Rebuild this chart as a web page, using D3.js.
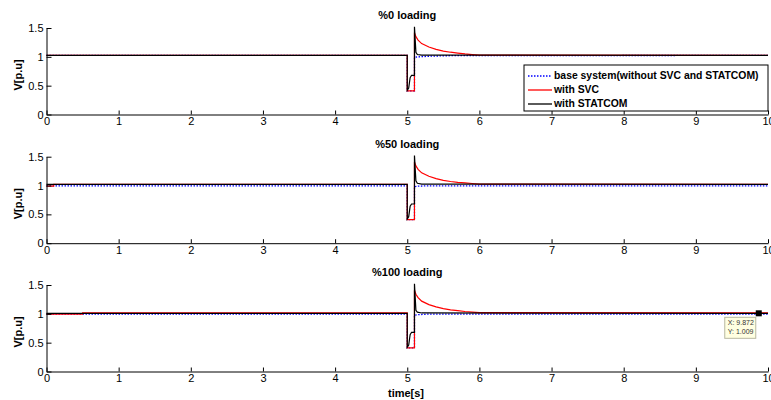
<!DOCTYPE html>
<html>
<head>
<meta charset="utf-8">
<script src="https://cdn.jsdelivr.net/npm/d3@7"></script>
<style>
  body { margin: 0; background: #fff; }
  svg { font-family: "Liberation Sans", Arial, sans-serif; }
</style>
</head>
<body>
<div id="plot"></div>
<script>
// tick labels / text
const xTicks = [0, 1, 2, 3, 4, 5, 6, 7, 8, 9, 10];
const yTicks = [0, 0.5, 1, 1.5];
const titles = ['%0 loading', '%50 loading', '%100 loading'];
const seriesNames = ['base system(without SVC and STATCOM)', 'with SVC', 'with STATCOM'];

// %0 loading
const tBase0 = [0, 5.0, 5.0, 5.1, 5.1, 5.15, 5.3, 5.6, 10];
const vBase0 = [1.025, 1.025, 0.41, 0.41, 0.99, 1.0, 1.01, 1.02, 1.025];
const tSvc0 = [0, 5.0, 5.0, 5.1, 5.1, 5.12, 5.15, 5.2, 5.3, 5.4, 5.5, 5.6, 5.7, 5.8, 5.9, 6.0, 10];
const vSvc0 = [1.025, 1.025, 0.41, 0.41, 1.42, 1.35, 1.29, 1.23, 1.17, 1.13, 1.10, 1.08, 1.065, 1.05, 1.04, 1.03, 1.025];
const tStat0 = [0, 5.0, 5.0, 5.02, 5.04, 5.06, 5.09, 5.1, 5.1, 5.12, 5.14, 5.2, 10];
const vStat0 = [1.025, 1.025, 0.42, 0.46, 0.64, 0.68, 0.68, 0.68, 1.52, 1.08, 1.04, 1.03, 1.025];

// %50 loading
const tBase1 = [0, 5.0, 5.0, 5.1, 5.1, 5.15, 5.3, 10];
const vBase1 = [0.995, 0.995, 0.41, 0.41, 0.98, 0.99, 0.995, 0.995];
const tSvc1 = [0, 0.1, 0.1, 5.0, 5.0, 5.1, 5.1, 5.12, 5.15, 5.2, 5.3, 5.4, 5.5, 5.6, 5.7, 5.8, 5.9, 6.0, 10];
const vSvc1 = [0.99, 0.99, 1.02, 1.02, 0.41, 0.41, 1.41, 1.34, 1.28, 1.22, 1.16, 1.12, 1.09, 1.07, 1.055, 1.045, 1.035, 1.025, 1.02];
const tStat1 = [0, 5.0, 5.0, 5.02, 5.04, 5.06, 5.09, 5.1, 5.1, 5.12, 5.14, 5.2, 10];
const vStat1 = [1.02, 1.02, 0.42, 0.46, 0.64, 0.68, 0.68, 0.68, 1.52, 1.08, 1.04, 1.025, 1.02];

// %100 loading
const tBase2 = [0, 5.0, 5.0, 5.1, 5.1, 5.15, 5.3, 10];
const vBase2 = [0.995, 0.995, 0.41, 0.41, 0.975, 0.985, 0.995, 0.995];
const tSvc2 = [0, 0.5, 0.5, 5.0, 5.0, 5.1, 5.1, 5.12, 5.15, 5.2, 5.3, 5.4, 5.5, 5.6, 5.7, 5.8, 5.9, 6.0, 10];
const vSvc2 = [0.995, 0.995, 1.015, 1.015, 0.41, 0.41, 1.41, 1.34, 1.28, 1.22, 1.16, 1.12, 1.09, 1.07, 1.055, 1.04, 1.03, 1.02, 1.015];
const tStat2 = [0, 5.0, 5.0, 5.02, 5.04, 5.06, 5.09, 5.1, 5.1, 5.12, 5.14, 5.2, 10];
const vStat2 = [1.009, 1.009, 0.42, 0.46, 0.64, 0.68, 0.68, 0.68, 1.52, 1.06, 1.03, 1.015, 1.009];

// data tip
const tipX = 9.872;
const tipY = 1.009;

const panelData = [
    [[tBase0, vBase0], [tSvc0, vSvc0], [tStat0, vStat0]],
    [[tBase1, vBase1], [tSvc1, vSvc1], [tStat1, vStat1]],
    [[tBase2, vBase2], [tSvc2, vSvc2], [tStat2, vStat2]]
];

const width = 771, height = 400;
const left = 46.5, right = 768;
const panelTops = [28, 156.7, 285];
const panelH = 86.5;
const colors = ['#0000ff', '#ff0000', '#000000'];
const dashes = ['1.5,1.5', null, null];

const svg = d3.select('#plot').append('svg')
    .attr('width', width)
    .attr('height', height);

const x = d3.scaleLinear().domain([0, 10]).range([left, right]);

panelData.forEach(function (series, p) {
    const top = panelTops[p];
    const y = d3.scaleLinear().domain([0, 1.5]).range([top + panelH, top]);
    const g = svg.append('g');

    // lines
    const line = d3.line().x(d => x(d[0])).y(d => y(d[1]));
    series.forEach(function (s, i) {
        const pts = s[0].map((t, k) => [t, s[1][k]]);
        g.append('path')
            .datum(pts)
            .attr('d', line)
            .attr('fill', 'none')
            .attr('stroke', colors[i])
            .attr('stroke-width', i === 0 ? 1.3 : 1.2)
            .attr('stroke-dasharray', dashes[i]);
    });

    // axes
    const xAxis = g.append('g')
        .attr('transform', 'translate(0,' + (top + panelH) + ')')
        .call(d3.axisBottom(x).tickValues(xTicks).tickFormat(d => String(d))
            .tickSizeInner(-4).tickSizeOuter(0).tickPadding(3));
    const yAxis = g.append('g')
        .attr('transform', 'translate(' + left + ',0)')
        .call(d3.axisLeft(y).tickValues(yTicks).tickFormat(d => String(d))
            .tickSizeInner(-5).tickSizeOuter(0).tickPadding(3));
    [xAxis, yAxis].forEach(function (a) {
        a.selectAll('text').attr('font-size', 11).attr('fill', '#000')
            .attr('font-family', '"Liberation Sans", Arial, sans-serif');
        a.select('.domain').attr('stroke', '#000');
        a.selectAll('line').attr('stroke', '#000');
    });

    // title
    g.append('text')
        .attr('x', (left + right) / 2)
        .attr('y', top - 12)
        .attr('text-anchor', 'middle')
        .attr('dominant-baseline', 'middle')
        .attr('font-size', 11)
        .attr('font-weight', 'bold')
        .text(titles[p]);

    // y label
    g.append('text')
        .attr('transform', 'translate(22,' + (top + 47) + ') rotate(-90)')
        .attr('text-anchor', 'middle')
        .attr('font-size', 11)
        .attr('font-weight', 'bold')
        .text('V[p.u]');

    if (p === 2) {
        // data tip
        g.append('rect')
            .attr('x', x(tipX) - 3).attr('y', y(tipY) - 3)
            .attr('width', 6).attr('height', 6)
            .attr('fill', '#000');
        const bx = x(tipX) - 34, by = y(tipY) + 4;
        g.append('rect')
            .attr('x', bx).attr('y', by)
            .attr('width', 31).attr('height', 21)
            .attr('fill', '#ffffe1')
            .attr('stroke', '#b8b8a0');
        g.append('text')
            .attr('x', bx + 3).attr('y', by + 8)
            .attr('font-size', 7).attr('fill', '#333')
            .text('X: ' + tipX);
        g.append('text')
            .attr('x', bx + 3).attr('y', by + 17)
            .attr('font-size', 7).attr('fill', '#333')
            .text('Y: ' + tipY);
    }
});

// x label
svg.append('text')
    .attr('x', 406)
    .attr('y', 397)
    .attr('text-anchor', 'middle')
    .attr('font-size', 11)
    .attr('font-weight', 'bold')
    .text('time[s]');

// legend
const legend = svg.append('g').attr('transform', 'translate(524,65)');
legend.append('rect')
    .attr('width', 244).attr('height', 46)
    .attr('fill', '#fff').attr('stroke', '#000');
seriesNames.forEach(function (name, i) {
    const ly = 11 + i * 14;
    legend.append('line')
        .attr('x1', 4).attr('x2', 28)
        .attr('y1', ly).attr('y2', ly)
        .attr('stroke', colors[i])
        .attr('stroke-width', 1.3)
        .attr('stroke-dasharray', dashes[i]);
    legend.append('text')
        .attr('x', 30).attr('y', ly)
        .attr('dominant-baseline', 'middle')
        .attr('font-size', 10.4)
        .attr('font-weight', 'bold')
        .text(name);
});
</script>
</body>
</html>
